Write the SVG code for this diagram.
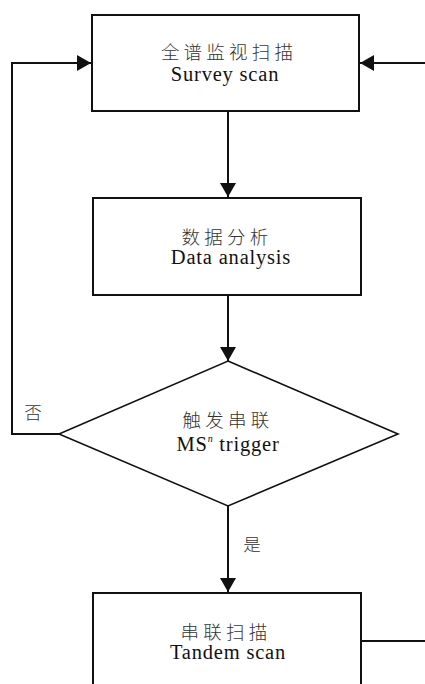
<svg xmlns="http://www.w3.org/2000/svg" width="425" height="684" viewBox="0 0 425 684">
<style>
.box{fill:#fff;stroke:#111;stroke-width:2}
.conn{fill:none;stroke:#111;stroke-width:2}
.zh{font-family:"Noto Sans CJK SC",sans-serif;font-size:18.5px;font-weight:300;fill:#333;text-anchor:middle;letter-spacing:4.2px}
.en{font-family:"Liberation Serif",serif;font-size:20.5px;fill:#111;text-anchor:middle;letter-spacing:0.8px}
.lbl{font-family:"Noto Sans CJK SC",sans-serif;font-size:17.5px;font-weight:300;fill:#333;text-anchor:middle}
</style>
<defs>
<marker id="arr" viewBox="0 0 14 16" refX="14" refY="8" markerWidth="14" markerHeight="16" markerUnits="userSpaceOnUse" orient="auto">
<path d="M0 0 L14 8 L0 16 Z" fill="#111"/>
</marker>
</defs>
<g id="connectors">
<path class="conn" d="M228 111 V197" marker-end="url(#arr)"/>
<path class="conn" d="M228 295 V361" marker-end="url(#arr)"/>
<path class="conn" d="M228 506 V592" marker-end="url(#arr)"/>
<path class="conn" d="M59 434 H12 V63 H91" marker-end="url(#arr)"/>
<path class="conn" d="M361 641 H440 V63 H360" marker-end="url(#arr)"/>
</g>
<g id="survey">
<rect class="box" x="92" y="15" width="267" height="96"/>
<text class="zh" x="229" y="58.5">全谱监视扫描</text>
<text class="en" x="225" y="81">Survey scan</text>
</g>
<g id="analysis">
<rect class="box" x="93" y="198" width="268" height="97"/>
<text class="zh" x="227" y="243.5">数据分析</text>
<text class="en" x="231" y="264">Data analysis</text>
</g>
<g id="decision">
<path class="box" style="stroke-width:1.6" d="M228 361 L398 434 L228 506 L59 434 Z"/>
<text class="zh" x="228" y="426.5">触发串联</text>
<text class="en" x="228" y="451">MS<tspan font-size="10" font-style="italic" dy="-9">n</tspan><tspan dy="9"> trigger</tspan></text>
</g>
<g id="tandem">
<rect class="box" x="93" y="593" width="268" height="110"/>
<text class="zh" x="226" y="638.5">串联扫描</text>
<text class="en" x="228" y="659">Tandem scan</text>
</g>
<g id="labels">
<text class="lbl" x="33" y="419">否</text>
<text class="lbl" x="252" y="551">是</text>
</g>
</svg>
